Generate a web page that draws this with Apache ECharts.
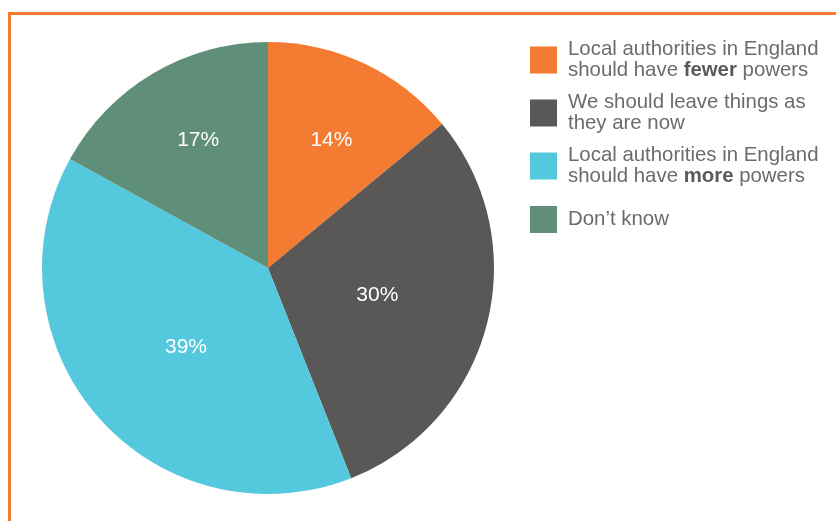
<!DOCTYPE html>
<html>
<head>
<meta charset="utf-8">
<script src="https://cdn.jsdelivr.net/npm/echarts@6/dist/echarts.min.js"></script>
<style>
  html, body { margin: 0; padding: 0; background: #ffffff; }
  #chart { width: 836px; height: 521px; }
</style>
</head>
<body>
<div id="chart"></div>
<script>
// Survey answers: should local authorities in England have more or fewer powers?
const categories = [
  'Local authorities in England should have fewer powers',
  'We should leave things as they are now',
  'Local authorities in England should have more powers',
  'Don\u2019t know'
];
const values = [14, 30, 39, 17];
const colors = ['#F47B32', '#5A5856', '#54C8DC', '#5F8E79'];

// Legend wording, with the key word set in bold
const legendText = {
  [categories[0]]: 'Local authorities in England\nshould have {b|fewer} powers',
  [categories[1]]: 'We should leave things as\nthey are now',
  [categories[2]]: 'Local authorities in England\nshould have {b|more} powers',
  [categories[3]]: 'Don\u2019t know'
};

const FONT = '"Liberation Sans", Arial, Helvetica, sans-serif';
const TEXT_GREY = '#6b6b6b';

const chart = echarts.init(document.getElementById('chart'), null, { renderer: 'canvas' });

const center = [268, 268];
const radius = 226;

// Small nudges [dx, dy] applied to each slice's percentage label
const labelNudge = [[0, 7], [-3, -2], [5, 2], [6, 0]];

// Mid-angle of each slice (clockwise from 12 o'clock), used to push the
// labels of the narrower slices further out along their own radius.
const total = values.reduce((a, b) => a + b, 0);
const midAngles = [];
let acc = 0;
values.forEach(v => {
  midAngles.push(((acc + v / 2) / total) * 2 * Math.PI);
  acc += v;
});

const legendTops = [39, 92, 145, 206];
const legends = categories.map((name, i) => ({
  data: [name],
  orient: 'vertical',
  left: 530,
  top: legendTops[i],
  padding: 0,
  itemWidth: 27,
  itemHeight: 27,
  icon: 'rect',
  selectedMode: false,
  formatter: n => legendText[n],
  textStyle: {
    fontFamily: FONT,
    fontSize: 20.4,
    lineHeight: 21,
    color: TEXT_GREY,
    padding: [0, 0, 0, 6],
    rich: {
      b: { fontFamily: FONT, fontSize: 20.4, lineHeight: 21, fontWeight: 'bold', color: '#5a5a5a' }
    }
  }
}));

chart.setOption({
  animation: false,
  backgroundColor: '#ffffff',
  color: colors,
  graphic: [
    // orange frame along the top and left edges
    { type: 'rect', shape: { x: 8, y: 12, width: 828, height: 3 }, style: { fill: '#F47B32' }, silent: true },
    { type: 'rect', shape: { x: 8, y: 12, width: 3, height: 509 }, style: { fill: '#F47B32' }, silent: true }
  ],
  legend: legends,
  series: [{
    type: 'pie',
    center: center,
    radius: radius,
    startAngle: 90,
    clockwise: true,
    avoidLabelOverlap: false,
    itemStyle: { borderWidth: 0 },
    label: {
      show: true,
      position: 'inside',
      formatter: '{c}%',
      fontFamily: FONT,
      fontSize: 21,
      color: '#ffffff'
    },
    labelLine: { show: false },
    labelLayout: function (params) {
      const i = params.dataIndex;
      const extra = values[i] / total < 0.2 ? 33 : 0;
      return {
        dx: extra * Math.sin(midAngles[i]) + labelNudge[i][0],
        dy: -extra * Math.cos(midAngles[i]) + labelNudge[i][1]
      };
    },
    emphasis: { disabled: true },
    data: categories.map((name, i) => ({ name: name, value: values[i] }))
  }]
});
</script>
</body>
</html>
